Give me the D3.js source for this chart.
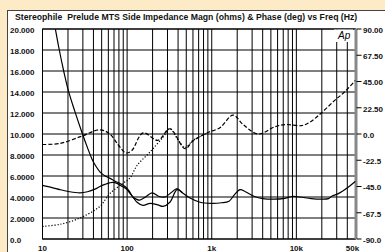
<!DOCTYPE html>
<html lang="en">
<head>
<meta charset="UTF-8">
<script src="https://d3js.org/d3.v7.min.js"></script>
<title>Prelude MTS Side impedance</title>
<style>
    body{
        margin: 0;
        background: #fdebc8;
        font-family: "Liberation Sans", Arial, sans-serif;
    }
    svg{ display: block; }
    .lbl{ font-size: 8px; font-weight: bold; fill: #111; }
</style>
</head>
<body>
<svg width="385" height="252"></svg>
<script>
// tick labels
const magTicks = ["0.0","2.0000","4.0000","6.0000","8.0000","10.000","12.000","14.000","16.000","18.000","20.000"]
const phaseTicks = ["-90.0","-67.5","-45.0","-22.5","0.0","22.50","45.00","67.50","90.00"]
const freqTicks = [10, 100, 1000, 10000, 50000]
const freqTickLabels = ["10","100","1k","10k","50k"]

// magnitude, curve A (steep low end) - Hz / ohms
const freqA = [12.5,14.2,15.8,17.8,20.1,24,29.4,34,38.5,43,47.7,55,62,72,82,94.5,105,117,128,141,165,197,240,281,330,389,450,554,727,1000,1300,1600,1850,2160,2500,3200,4000,5500,7000,9000,11000,15000,20000,24000,26500,30000,35000,42000,50000]
const magA  = [22.5,20,18,16,14.2,12.2,10.1,8.7,7.6,6.9,6.4,6.0,5.8,5.5,5.3,5.0,4.6,4.0,3.8,3.7,4.0,4.4,4.05,4.0,4.4,4.8,4.4,3.9,3.5,3.4,3.45,3.6,4.2,4.7,4.5,4.05,3.85,3.8,3.85,4.05,4.0,3.85,3.8,3.85,4.1,4.25,4.55,5.0,5.5]

// magnitude, curve B (hump at 70 Hz)
const freqB = [10,13,16.1,21,27.7,34,41.7,47.7,54.7,62,68,76,82,90,99.6,108,117,131,154,187,230,266,320,389,450]
const magB  = [5.1,4.9,4.7,4.5,4.4,4.5,4.75,5.0,5.2,5.35,5.4,5.3,5.15,4.95,4.7,4.35,4.0,3.5,3.2,3.4,3.25,3.1,3.5,4.7,4.4]

// phase, dashed - Hz / deg
const freqPB = [10,16.1,29.3,47.7,62.5,78,96.4,113,154,232,320,484,600,880,1250,1790,2350,3540,5610,7500,11500,14300,19700,28400,37000,50000]
const phaseB = [-9,-8.1,-1.8,3.6,0,-9,-16.2,-14.4,0.9,-5.4,4.5,-12.6,-6,0.9,5.4,16.2,8.1,0,6.3,8.1,7.2,9.9,18,28.8,36,46]

// phase, dotted
const freqPA = [10,16.1,27.7,47.7,62.5,89.6,108,131,187,266,320,400,484,600,880]
const phaseA = [-79.2,-77.4,-72,-62,-51,-42.3,-37.8,-27,-15.3,-2.7,4.5,-5,-11.5,-5.5,0.6]

const svg = d3.select("svg")
const pLeft = 42.5, pRight = 355.5, pTop = 29, pBottom = 239

const x = d3.scaleLog().domain([10, 50000]).range([pLeft, pRight])
const yMag = d3.scaleLinear().domain([0, 20]).range([pBottom, pTop])
const yPh = d3.scaleLinear().domain([-90, 90]).range([pBottom, pTop])

// white panel
svg.append("rect").attr("x", 7.5).attr("y", 10.5).attr("width", 400).attr("height", 260)
    .attr("fill", "#fff").attr("stroke", "#444")

svg.append("text").attr("class", "lbl").attr("x", 15).attr("y", 20)
    .style("white-space", "pre").style("font-size", "8.7px")
    .text("Stereophile  Prelude MTS Side Impedance Magn (ohms) & Phase (deg) vs Freq (Hz)")

// grid
let gridF = []
for (let dec = 10; dec < 50000; dec *= 10)
    for (let m = 1; m < 10; m++) if (dec * m <= 50000) gridF.push(dec * m)
svg.append("g").selectAll("line").data(gridF).join("line")
    .attr("x1", d => x(d)).attr("x2", d => x(d))
    .attr("y1", pTop).attr("y2", pBottom)
    .attr("stroke", "#000").attr("stroke-width", 1)
svg.append("g").selectAll("line").data(d3.range(0, 21, 2)).join("line")
    .attr("x1", pLeft).attr("x2", pRight)
    .attr("y1", d => yMag(d)).attr("y2", d => yMag(d))
    .attr("stroke", "#000").attr("stroke-width", 1)
svg.append("rect").attr("x", pLeft).attr("y", pTop).attr("width", pRight - pLeft).attr("height", pBottom - pTop)
    .attr("fill", "none").attr("stroke", "#000")
svg.append("line").attr("x1", pRight + 0.5).attr("x2", pRight + 0.5).attr("y1", pTop).attr("y2", pBottom)
    .attr("stroke", "#888").attr("stroke-width", 3)

// right ticks
svg.append("g").selectAll("line").data(d3.range(-90, 91, 22.5)).join("line")
    .attr("x1", pRight + 1).attr("x2", pRight + 6)
    .attr("y1", d => yPh(d)).attr("y2", d => yPh(d))
    .attr("stroke", "#000")

// labels
svg.append("g").selectAll("text").data(magTicks).join("text").attr("class", "lbl")
    .attr("x", 10).attr("y", (d, i) => yMag(i * 2) + 3.8).text(d => d)
svg.append("g").selectAll("text").data(phaseTicks).join("text").attr("class", "lbl")
    .attr("x", pRight + 7.5).attr("y", (d, i) => yPh(-90 + i * 22.5) + 3.8).text(d => d)
svg.append("g").selectAll("text").data(freqTicks).join("text").attr("class", "lbl")
    .attr("text-anchor", "middle")
    .attr("x", d => x(d) - (d === 50000 ? 3 : 0)).attr("y", 250.5)
    .text((d, i) => freqTickLabels[i])

// Ap logo
svg.append("rect").attr("x", 334).attr("y", 29.5).attr("width", 19).attr("height", 12.5).attr("fill", "#fff")
svg.append("text").attr("x", 338).attr("y", 38.5).attr("font-size", 10).attr("font-style", "italic")
    .text("Ap")

// curves
svg.append("clipPath").attr("id", "clip").append("rect")
    .attr("x", pLeft).attr("y", pTop).attr("width", pRight - pLeft).attr("height", pBottom - pTop)
const plot = svg.append("g").attr("clip-path", "url(#clip)")

function curve(fs, vs, yScale, dash) {
    const line = d3.line().x(d => x(d[0])).y(d => yScale(d[1])).curve(d3.curveCatmullRom)
    plot.append("path").datum(d3.zip(fs, vs)).attr("d", line)
        .attr("fill", "none").attr("stroke", "#000").attr("stroke-width", 1.2)
        .attr("stroke-dasharray", dash)
}
curve(freqA, magA, yMag, null)
curve(freqB, magB, yMag, null)
curve(freqPB, phaseB, yPh, "4,2")
curve(freqPA, phaseA, yPh, "1.2,1.8")
</script>
</body>
</html>
